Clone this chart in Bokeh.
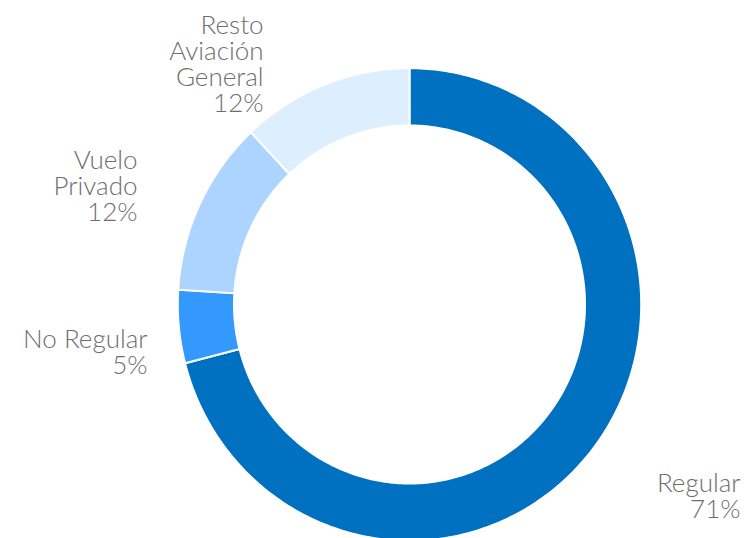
import math
from bokeh.plotting import figure
from bokeh.models import Range1d, ColumnDataSource
from bokeh.core.properties import value
from bokeh.embed import file_html
from bokeh.resources import INLINE

# Data
categories = ["Regular", "No Regular", "Vuelo Privado", "Resto Aviación General"]
shares = [71, 5, 12, 12]
label_lines = [["Regular", "71%"], ["No Regular", "5%"], ["Vuelo", "Privado", "12%"],
               ["Resto", "Aviación", "General", "12%"]]
colors = ["#0070C0", "#3399FF", "#ADD4FF", "#DDEEFF"]

# Layout (screen pixels)
W, H = 746, 538
cx, cy = 409, 304
rx_out, ry_out = 231.7, 236.3
rx_in, ry_in = 175.5, 179
label_anchor = [(740, 481), (147, 337), (137, 158), (263, 23)]
line_gap = 26

def Y(y):
    return H - y

p = figure(width=W, height=H, output_backend="svg", toolbar_location=None,
           x_range=Range1d(0, W), y_range=Range1d(0, H),
           x_axis_type=None, y_axis_type=None, min_border=0)
p.outline_line_color = None
p.xgrid.visible = False
p.ygrid.visible = False
p.background_fill_color = "white"

total = sum(shares)
xs_p, ys_p = [], []
cum = 0
for s in shares:
    a0 = 2 * math.pi * cum / total
    cum += s
    a1 = 2 * math.pi * cum / total
    n = max(8, int(s * 4))
    angs = [a0 + (a1 - a0) * k / n for k in range(n + 1)]
    ox = [cx + rx_out * math.sin(a) for a in angs]
    oy = [Y(cy - ry_out * math.cos(a)) for a in angs]
    ix = [cx + rx_in * math.sin(a) for a in reversed(angs)]
    iy = [Y(cy - ry_in * math.cos(a)) for a in reversed(angs)]
    xs_p.append(ox + ix)
    ys_p.append(oy + iy)

src = ColumnDataSource(dict(xs=xs_p, ys=ys_p, color=colors, cat=categories))
p.patches(xs="xs", ys="ys", fill_color="color", line_color="white", line_width=2,
          line_join="miter", source=src)

xs, ys, txt = [], [], []
for lines, (ax, ay) in zip(label_lines, label_anchor):
    for i, t in enumerate(lines):
        xs.append(ax)
        ys.append(Y(ay + i * line_gap))
        txt.append(t)

p.text(x=xs, y=ys, text=txt, text_align="right", text_baseline="alphabetic",
       text_font=value("'Lato Light', Lato"), text_font_size="26px", text_color="#6e6e6e")

open("out.html", "w").write(file_html(p, INLINE))
